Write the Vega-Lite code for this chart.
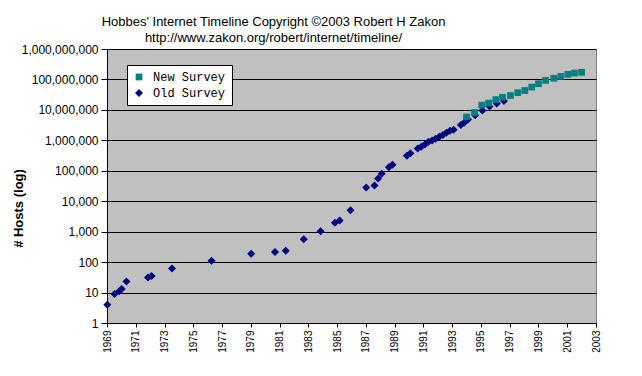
{
  "$schema": "https://vega.github.io/schema/vega-lite/v6.json",
  "width": 489,
  "height": 274,
  "autosize": {"type": "none"},
  "padding": {"left": 107, "top": 49, "right": 46, "bottom": 53},
  "background": "white",
  "title": {
    "text": ["Hobbes' Internet Timeline Copyright ©2003 Robert H Zakon", "http://www.zakon.org/robert/internet/timeline/"],
    "anchor": "middle",
    "frame": "group",
    "dx": -78,
    "offset": -2,
    "font": "Liberation Sans",
    "fontSize": 13,
    "fontWeight": "normal",
    "lineHeight": 16,
    "color": "black"
  },
  "config": {
    "view": {"fill": "#C0C0C0", "stroke": "#808080", "strokeWidth": 1},
    "axis": {"labelFont": "Liberation Sans", "titleFont": "Liberation Sans", "labelColor": "black", "titleColor": "black", "domainColor": "black", "tickColor": "black"}
  },
  "data": {
    "values": [
      {"year": 1969.02, "hosts": 4, "survey": "Old Survey"},
      {"year": 1969.52, "hosts": 9, "survey": "Old Survey"},
      {"year": 1969.85, "hosts": 11, "survey": "Old Survey"},
      {"year": 1970.02, "hosts": 13, "survey": "Old Survey"},
      {"year": 1970.35, "hosts": 23, "survey": "Old Survey"},
      {"year": 1971.85, "hosts": 31, "survey": "Old Survey"},
      {"year": 1972.1, "hosts": 35, "survey": "Old Survey"},
      {"year": 1973.52, "hosts": 62, "survey": "Old Survey"},
      {"year": 1976.27, "hosts": 111, "survey": "Old Survey"},
      {"year": 1979.02, "hosts": 188, "survey": "Old Survey"},
      {"year": 1980.68, "hosts": 213, "survey": "Old Survey"},
      {"year": 1981.43, "hosts": 235, "survey": "Old Survey"},
      {"year": 1982.68, "hosts": 562, "survey": "Old Survey"},
      {"year": 1983.85, "hosts": 1024, "survey": "Old Survey"},
      {"year": 1984.85, "hosts": 1961, "survey": "Old Survey"},
      {"year": 1985.18, "hosts": 2308, "survey": "Old Survey"},
      {"year": 1985.93, "hosts": 5089, "survey": "Old Survey"},
      {"year": 1987.02, "hosts": 28174, "survey": "Old Survey"},
      {"year": 1987.6, "hosts": 33000, "survey": "Old Survey"},
      {"year": 1987.85, "hosts": 56000, "survey": "Old Survey"},
      {"year": 1988.1, "hosts": 80000, "survey": "Old Survey"},
      {"year": 1988.6, "hosts": 130000, "survey": "Old Survey"},
      {"year": 1988.85, "hosts": 159000, "survey": "Old Survey"},
      {"year": 1989.85, "hosts": 313000, "survey": "Old Survey"},
      {"year": 1990.1, "hosts": 376000, "survey": "Old Survey"},
      {"year": 1990.6, "hosts": 535000, "survey": "Old Survey"},
      {"year": 1990.85, "hosts": 617000, "survey": "Old Survey"},
      {"year": 1991.1, "hosts": 727000, "survey": "Old Survey"},
      {"year": 1991.35, "hosts": 890000, "survey": "Old Survey"},
      {"year": 1991.6, "hosts": 992000, "survey": "Old Survey"},
      {"year": 1991.85, "hosts": 1136000, "survey": "Old Survey"},
      {"year": 1992.1, "hosts": 1313000, "survey": "Old Survey"},
      {"year": 1992.35, "hosts": 1486000, "survey": "Old Survey"},
      {"year": 1992.6, "hosts": 1776000, "survey": "Old Survey"},
      {"year": 1992.85, "hosts": 2056000, "survey": "Old Survey"},
      {"year": 1993.1, "hosts": 2217000, "survey": "Old Survey"},
      {"year": 1993.6, "hosts": 3212000, "survey": "Old Survey"},
      {"year": 1993.85, "hosts": 3864000, "survey": "Old Survey"},
      {"year": 1994.1, "hosts": 4852000, "survey": "Old Survey"},
      {"year": 1994.6, "hosts": 6642000, "survey": "Old Survey"},
      {"year": 1995.1, "hosts": 9472000, "survey": "Old Survey"},
      {"year": 1995.6, "hosts": 12881000, "survey": "Old Survey"},
      {"year": 1996.1, "hosts": 16146000, "survey": "Old Survey"},
      {"year": 1996.6, "hosts": 19540000, "survey": "Old Survey"},
      {"year": 1994.0, "hosts": 5846000, "survey": "New Survey"},
      {"year": 1994.55, "hosts": 8200000, "survey": "New Survey"},
      {"year": 1995.06, "hosts": 14352000, "survey": "New Survey"},
      {"year": 1995.54, "hosts": 16729000, "survey": "New Survey"},
      {"year": 1996.03, "hosts": 21819000, "survey": "New Survey"},
      {"year": 1996.5, "hosts": 26053000, "survey": "New Survey"},
      {"year": 1997.05, "hosts": 29670000, "survey": "New Survey"},
      {"year": 1997.56, "hosts": 36739000, "survey": "New Survey"},
      {"year": 1998.05, "hosts": 43230000, "survey": "New Survey"},
      {"year": 1998.53, "hosts": 56218000, "survey": "New Survey"},
      {"year": 1999.0, "hosts": 72398092, "survey": "New Survey"},
      {"year": 1999.5, "hosts": 93047785, "survey": "New Survey"},
      {"year": 2000.07, "hosts": 109574429, "survey": "New Survey"},
      {"year": 2000.55, "hosts": 125888197, "survey": "New Survey"},
      {"year": 2001.04, "hosts": 147344723, "survey": "New Survey"},
      {"year": 2001.5, "hosts": 162128493, "survey": "New Survey"},
      {"year": 2002.0, "hosts": 171638297, "survey": "New Survey"}
    ]
  },
  "mark": {"type": "point", "filled": true, "opacity": 1, "strokeWidth": 0},
  "encoding": {
    "x": {
      "field": "year",
      "type": "quantitative",
      "scale": {"domain": [1969, 2003], "nice": false, "zero": false},
      "axis": {
        "title": null,
        "values": [1969, 1971, 1973, 1975, 1977, 1979, 1981, 1983, 1985, 1987, 1989, 1991, 1993, 1995, 1997, 1999, 2001, 2003],
        "format": "d",
        "grid": false,
        "labelAngle": -90,
        "labelFontSize": 10,
        "labelPadding": 3,
        "tickSize": 4,
        "labelFlush": false,
        "labelOverlap": false
      }
    },
    "y": {
      "field": "hosts",
      "type": "quantitative",
      "scale": {"type": "log", "domain": [1, 1000000000], "nice": false},
      "axis": {
        "title": "# Hosts (log)",
        "values": [1, 10, 100, 1000, 10000, 100000, 1000000, 10000000, 100000000, 1000000000],
        "format": ",d",
        "grid": true,
        "gridColor": "black",
        "gridOpacity": 1,
        "gridWidth": 1,
        "labelFontSize": 12,
        "labelPadding": 3,
        "tickSize": 6,
        "labelFlush": false,
        "labelOverlap": false,
        "titleFontSize": 13,
        "titleFontWeight": "bold",
        "titleX": -89,
        "titleY": 159,
        "titleAngle": -90,
        "titleAlign": "center",
        "titleBaseline": "middle"
      }
    },
    "color": {
      "field": "survey",
      "type": "nominal",
      "scale": {"domain": ["New Survey", "Old Survey"], "range": ["#008080", "#000080"]},
      "legend": {
        "title": null,
        "orient": "none",
        "legendX": 20,
        "legendY": 16,
        "fillColor": "white",
        "strokeColor": "black",
        "cornerRadius": 0,
        "padding": 6,
        "rowPadding": 4,
        "labelFont": "Liberation Mono",
        "labelFontSize": 12,
        "labelColor": "black",
        "labelOffset": 8
      }
    },
    "shape": {
      "field": "survey",
      "type": "nominal",
      "scale": {"domain": ["New Survey", "Old Survey"], "range": ["square", "diamond"]}
    },
    "size": {
      "field": "survey",
      "type": "nominal",
      "scale": {"domain": ["New Survey", "Old Survey"], "range": [45, 64]}
    }
  }
}
